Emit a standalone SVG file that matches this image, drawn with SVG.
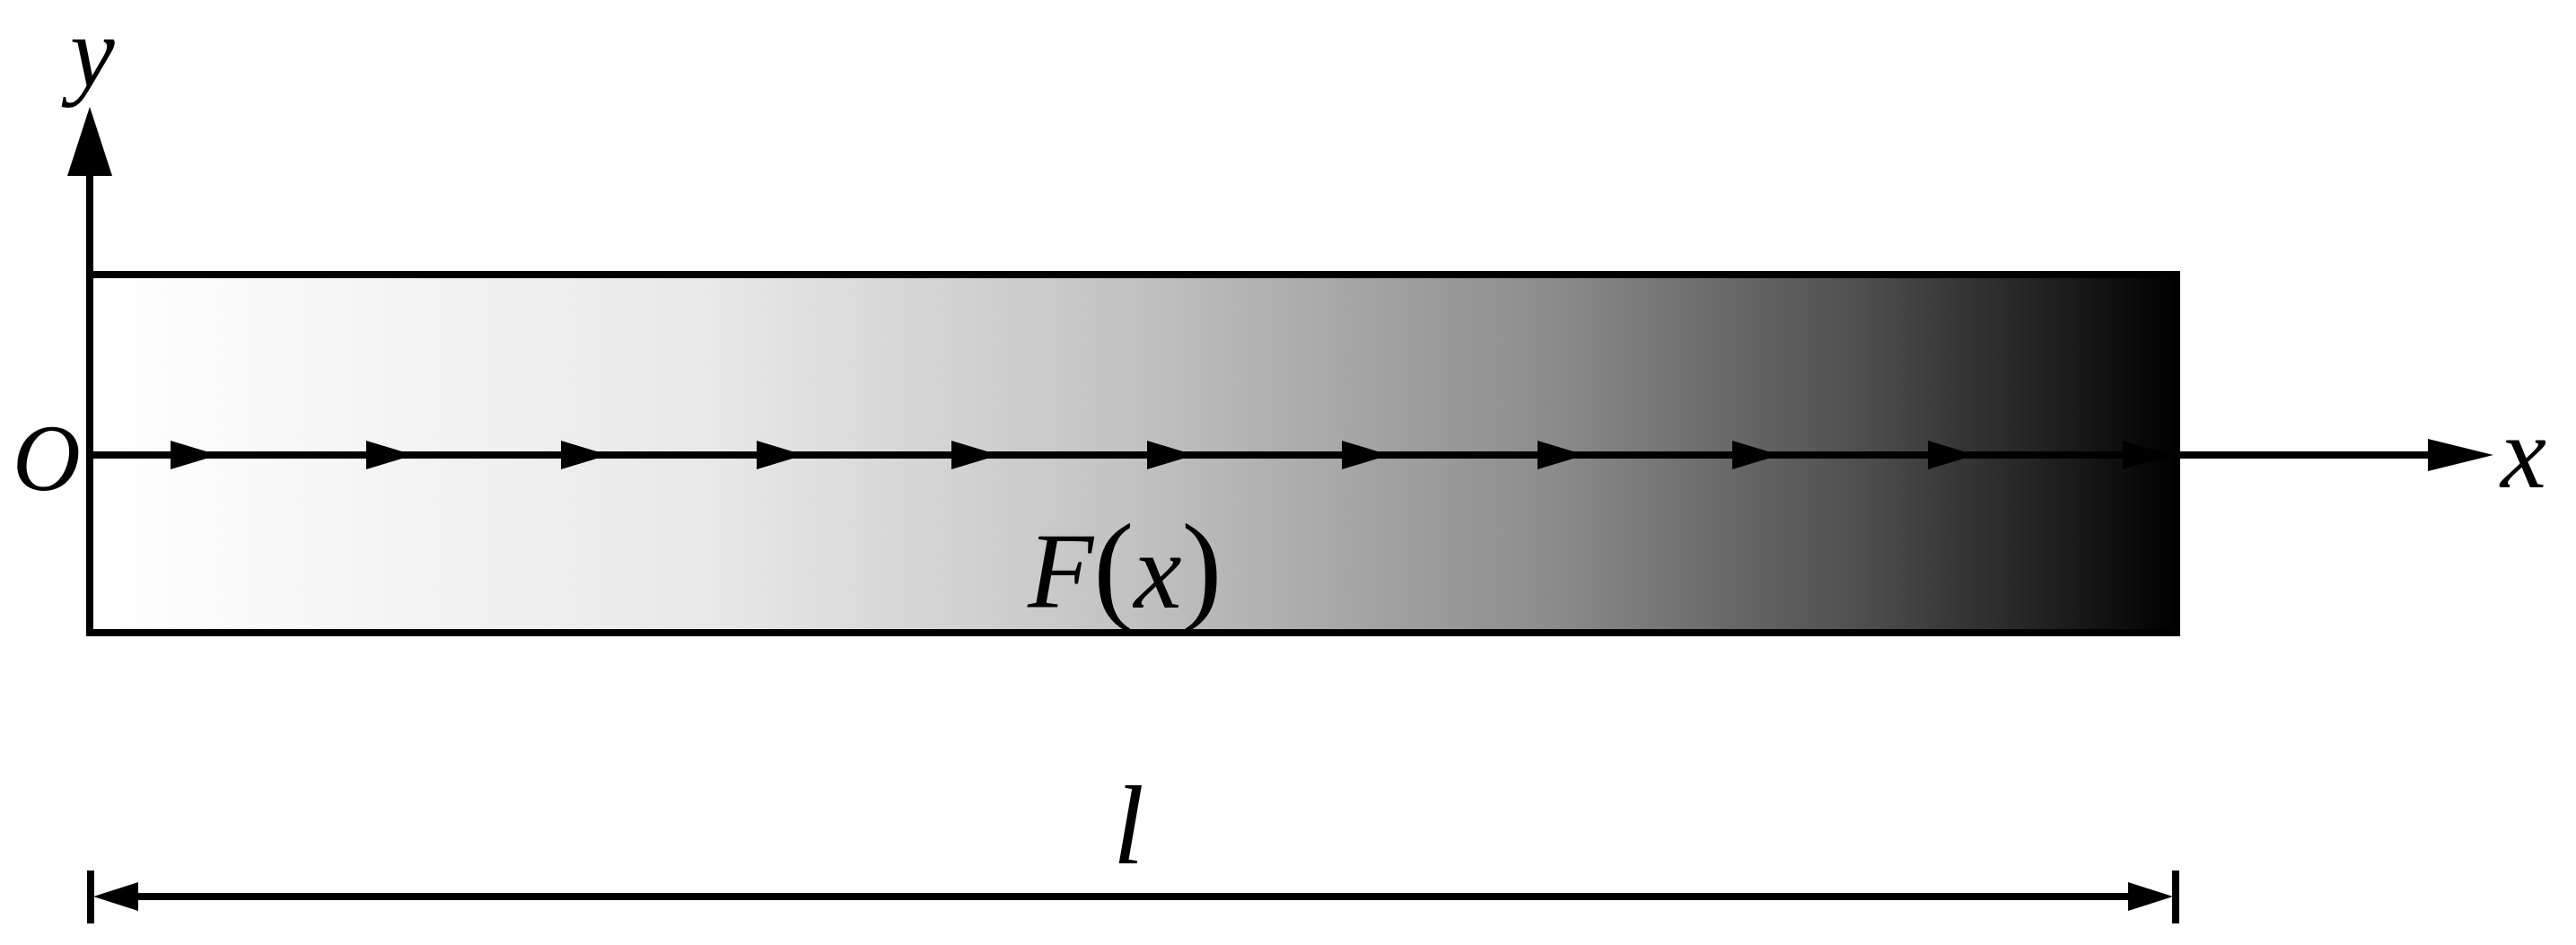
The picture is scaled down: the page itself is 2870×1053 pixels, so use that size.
<svg xmlns="http://www.w3.org/2000/svg" width="2870" height="1053" viewBox="0 0 2870 1053">
<defs>
<linearGradient id="g" x1="0" x2="1" y1="0" y2="0">
<stop offset="0" stop-color="#ffffff"/><stop offset="0.3" stop-color="#e8e8e8"/><stop offset="0.5" stop-color="#c2c2c2"/><stop offset="0.7" stop-color="#8c8c8c"/><stop offset="0.85" stop-color="#4e4e4e"/><stop offset="1" stop-color="#000"/>
</linearGradient>
<style>
.ln{stroke:#000;stroke-width:8;fill:none}
.t{font-family:"Liberation Serif",serif;font-style:italic;fill:#000}
</style>
</defs>
<rect width="2870" height="1053" fill="#fff"/>
<g id="bar"><rect x="100" y="306" width="2325" height="399" fill="url(#g)" stroke="#000" stroke-width="8"/></g>
<g id="connectors">
<line class="ln" x1="100" y1="705" x2="100" y2="190"/>
<polygon points="100,119 75,196 125,196"/>
<line class="ln" x1="100" y1="507" x2="2710" y2="507"/>
<polygon points="2778,507 2705,489 2705,525"/>
<g id="flow">
<polygon points="243,507 190,491 190,523"/><polygon points="461,507 408,491 408,523"/><polygon points="678,507 625,491 625,523"/><polygon points="896,507 843,491 843,523"/><polygon points="1113,507 1060,491 1060,523"/><polygon points="1331,507 1278,491 1278,523"/><polygon points="1548,507 1495,491 1495,523"/><polygon points="1766,507 1713,491 1713,523"/><polygon points="1983,507 1930,491 1930,523"/><polygon points="2201,507 2148,491 2148,523"/><polygon points="2418,507 2365,491 2365,523"/>
</g>
<line class="ln" x1="150" y1="999" x2="2375" y2="999"/>
<polygon points="104,999 154,983 154,1015"/><polygon points="2421,999 2371,983 2371,1015"/>
<line class="ln" x1="101" y1="970" x2="101" y2="1029"/><line class="ln" x1="2424" y1="970" x2="2424" y2="1029"/>
</g>
<g id="labels">
<text class="t" x="78" y="96" font-size="112">y</text>
<text class="t" x="14" y="546" font-size="105">O</text>
<text class="t" x="2786" y="543" font-size="115">x</text>
<text class="t" x="1145" y="677" font-size="120">F<tspan font-style="normal" font-size="135">(</tspan>x<tspan font-style="normal" font-size="135">)</tspan></text>
<text class="t" x="1240" y="962" font-size="125">l</text>
</g>
</svg>
